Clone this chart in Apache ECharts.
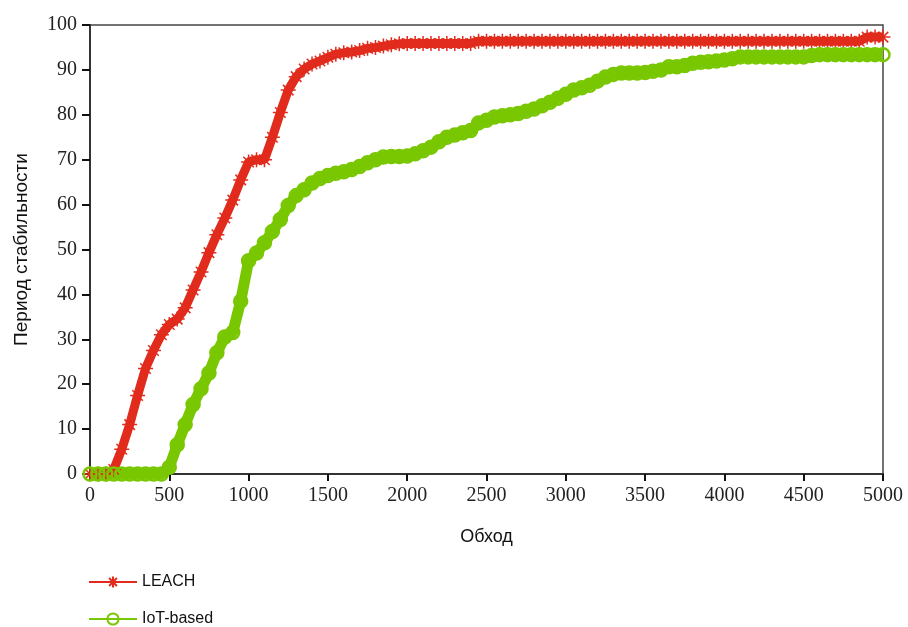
<!DOCTYPE html>
<html>
<head>
<meta charset="utf-8">
<script src="https://cdn.jsdelivr.net/npm/echarts@6/dist/echarts.min.js"></script>
<style>
  html, body { margin: 0; padding: 0; background: #fff; }
  #chart { width: 908px; height: 627px; }
</style>
</head>
<body>
<div id="chart"></div>
<script>
// rounds (x), step 50
const rounds = [
  0, 50, 100, 150, 200, 250, 300, 350, 400, 450,
  500, 550, 600, 650, 700, 750, 800, 850, 900, 950,
  1000, 1050, 1100, 1150, 1200, 1250, 1300, 1350, 1400, 1450,
  1500, 1550, 1600, 1650, 1700, 1750, 1800, 1850, 1900, 1950,
  2000, 2050, 2100, 2150, 2200, 2250, 2300, 2350, 2400, 2450,
  2500, 2550, 2600, 2650, 2700, 2750, 2800, 2850, 2900, 2950,
  3000, 3050, 3100, 3150, 3200, 3250, 3300, 3350, 3400, 3450,
  3500, 3550, 3600, 3650, 3700, 3750, 3800, 3850, 3900, 3950,
  4000, 4050, 4100, 4150, 4200, 4250, 4300, 4350, 4400, 4450,
  4500, 4550, 4600, 4650, 4700, 4750, 4800, 4850, 4900, 4950,
  5000
]

const leach = [
  0, 0, 0, 1, 5.5, 11, 17.5, 23.5, 27.5, 31,
  33.3, 34.5, 37, 41, 45, 49.3, 53.3, 57, 61, 65.5,
  69.5, 70, 70, 75, 80.5, 85.5, 88.5, 90.2, 91.3, 92,
  92.8, 93.5, 93.8, 94, 94.3, 94.8, 95, 95.3, 95.6, 95.8,
  95.9, 95.9, 95.9, 95.9, 95.9, 95.9, 95.9, 95.9, 95.9, 96.4,
  96.4, 96.4, 96.4, 96.4, 96.4, 96.4, 96.4, 96.4, 96.4, 96.4,
  96.4, 96.4, 96.4, 96.4, 96.4, 96.4, 96.4, 96.4, 96.4, 96.4,
  96.4, 96.4, 96.4, 96.4, 96.4, 96.4, 96.4, 96.4, 96.4, 96.4,
  96.4, 96.4, 96.4, 96.4, 96.4, 96.4, 96.4, 96.4, 96.4, 96.4,
  96.4, 96.4, 96.4, 96.4, 96.4, 96.4, 96.4, 96.4, 97.3, 97.3,
  97.3
]

const iot = [
  0, 0, 0, 0, 0, 0, 0, 0, 0, 0,
  1.5, 6.5, 11, 15.5, 19, 22.5, 27, 30.5, 31.5, 38.5,
  47.5, 49.2, 51.5, 54, 56.7, 59.8, 62, 63.3, 64.8, 65.8,
  66.5, 67, 67.3, 67.8, 68.5, 69.3, 70, 70.6, 70.7, 70.7,
  70.8, 71.3, 72, 72.8, 74, 75, 75.5, 76, 76.5, 78.2,
  78.8, 79.5, 79.8, 80, 80.3, 80.8, 81.3, 82, 82.8, 83.7,
  84.6, 85.5, 86, 86.6, 87.5, 88.4, 89, 89.3, 89.3, 89.3,
  89.4, 89.7, 90, 90.7, 90.7, 91, 91.5, 91.7, 91.8, 92,
  92.2, 92.5, 92.9, 92.9, 92.9, 92.9, 92.9, 92.9, 92.9, 92.9,
  92.9, 93.2, 93.4, 93.4, 93.4, 93.4, 93.4, 93.4, 93.4, 93.4,
  93.4
]

const red = '#e12b1c'
const green = '#78c700'
const star = 'path://M0,5L10,5M5,0L5,10M1.5,1.5L8.5,8.5M8.5,1.5L1.5,8.5'

var mychart = echarts.init(document.getElementById('chart'))

const legendText = { fontFamily: 'Liberation Sans', fontSize: 16, color: '#111' }

const option = {
  animation: false,
  grid: {
    left: 90, right: 25, top: 25, bottom: 153,
    outerBoundsMode: 'none',
    containLabel: false,
    show: true, borderColor: '#444', borderWidth: 1.5
  },
  legend: [
    {
      left: 83, top: 569,
      itemWidth: 48, itemHeight: 14,
      textStyle: legendText,
      data: ['LEACH']
    },
    {
      left: 83, top: 606,
      itemWidth: 48, itemHeight: 14,
      textStyle: legendText,
      data: ['IoT-based']
    }
  ],
  xAxis: {
    type: 'value',
    min: 0, max: 5000, interval: 500,
    name: 'Обход',
    nameLocation: 'middle',
    nameGap: 54,
    nameTextStyle: { fontFamily: 'Liberation Sans', fontSize: 18, color: '#111' },
    axisLine: { lineStyle: { color: '#333', width: 2 } },
    axisTick: { length: 7, lineStyle: { color: '#111', width: 2 } },
    axisLabel: {
      fontFamily: 'Liberation Serif', fontSize: 20, color: '#222', margin: 12,
      formatter: v => String(v)
    },
    splitLine: { show: false }
  },
  yAxis: {
    type: 'value',
    min: 0, max: 100, interval: 10,
    name: 'Период стабильности',
    nameLocation: 'middle',
    nameGap: 59,
    nameTextStyle: { fontFamily: 'Liberation Sans', fontSize: 19, color: '#111' },
    axisLine: { show: true, lineStyle: { color: '#333', width: 2 } },
    axisTick: { show: true, length: 8, lineStyle: { color: '#111', width: 2 } },
    axisLabel: { fontFamily: 'Liberation Serif', fontSize: 20, color: '#222', margin: 13 },
    splitLine: { show: false }
  },
  series: [
    {
      name: 'LEACH',
      type: 'line',
      data: rounds.map((r, i) => [r, leach[i]]),
      symbol: star,
      symbolSize: 15,
      showAllSymbol: true,
      clip: false,
      lineStyle: { color: red, width: 9 },
      itemStyle: { color: red, borderColor: red, borderWidth: 1.5 }
    },
    {
      name: 'IoT-based',
      type: 'line',
      data: rounds.map((r, i) => [r, iot[i]]),
      symbol: 'circle',
      symbolSize: 13,
      showAllSymbol: true,
      clip: false,
      lineStyle: { color: green, width: 11 },
      itemStyle: { color: 'rgba(255,255,255,0)', borderColor: green, borderWidth: 2.5 }
    }
  ]
}

option && mychart.setOption(option)
</script>
</body>
</html>
